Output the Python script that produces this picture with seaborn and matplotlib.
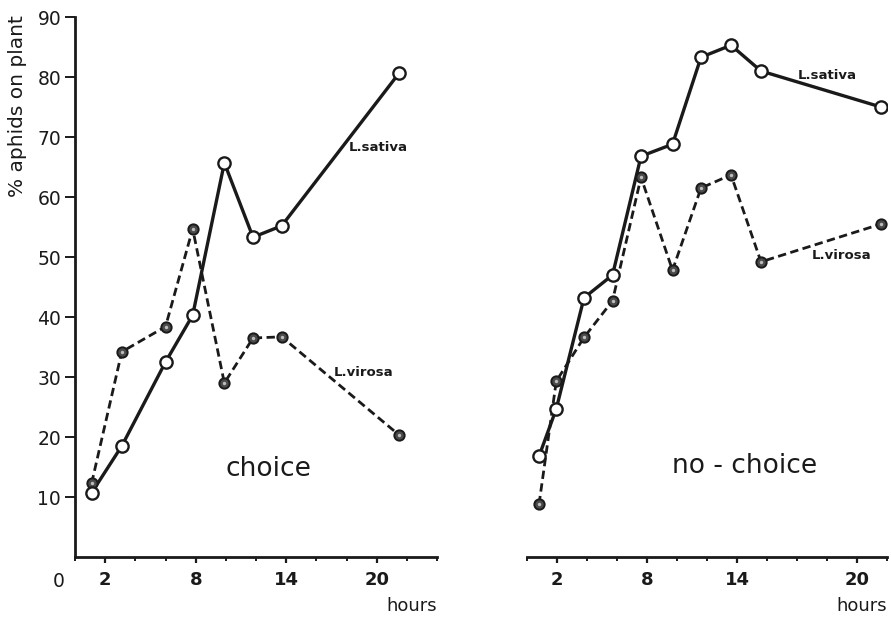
import matplotlib
matplotlib.use("Agg")
import matplotlib.pyplot as plt
import seaborn as sns
import pandas as pd
from matplotlib.ticker import MultipleLocator

# Percentage of aphids settled on each lettuce species over time
choice_hours = [1.1, 3.1, 6.0, 7.8, 9.9, 11.8, 13.7, 21.5]
choice_sativa = [10.7, 18.5, 32.5, 40.3, 65.7, 53.3, 55.2, 80.7]
choice_virosa = [12.3, 34.2, 38.4, 54.7, 29.0, 36.5, 36.7, 20.3]

nochoice_hours = [0.8, 1.95, 3.8, 5.7, 7.6, 9.7, 11.6, 13.6, 15.6, 23.6]
nochoice_sativa = [16.8, 24.7, 43.2, 47.0, 66.8, 68.8, 83.3, 85.3, 81.0, 75.0]
nochoice_virosa = [8.8, 29.3, 36.6, 42.7, 63.3, 47.8, 61.5, 63.7, 49.2, 55.5]

y_ticks = [10, 20, 30, 40, 50, 60, 70, 80, 90]
choice_xticks = [2, 8, 14, 20]
choice_xlabels = ["2", "8", "14", "20"]
nochoice_xticks = [2, 8, 14, 22]
nochoice_xlabels = ["2", "8", "14", "20"]

sns.set_style("ticks")
plt.rcParams["font.family"] = ["DejaVu Sans"]
INK = "#1a1a1a"

fig = plt.figure(figsize=(8.91, 6.17), dpi=100)
ax_l = fig.add_axes([0.0842, 0.0972, 0.4063, 0.8752])
ax_r = fig.add_axes([0.5915, 0.0972, 0.4040, 0.8752])


def draw_series(ax, hours, sativa, virosa):
    df = pd.DataFrame({"hours": hours, "sativa": sativa, "virosa": virosa})
    sns.lineplot(data=df, x="hours", y="virosa", ax=ax, color=INK, lw=2.0,
                 dashes=False, linestyle=(0, (3.0, 1.6)), zorder=2)
    sns.lineplot(data=df, x="hours", y="sativa", ax=ax, color=INK, lw=2.4, zorder=3)
    sns.scatterplot(data=df, x="hours", y="virosa", ax=ax, s=55, marker="o",
                    facecolor="#4a4a4a", edgecolor=INK, linewidth=1.4, zorder=4)
    sns.scatterplot(data=df, x="hours", y="virosa", ax=ax, s=6, marker="o",
                    color="#bdbdbd", linewidth=0, zorder=5)
    sns.scatterplot(data=df, x="hours", y="sativa", ax=ax, s=78, marker="o",
                    facecolor="white", edgecolor=INK, linewidth=1.7, zorder=6)


draw_series(ax_l, choice_hours, choice_sativa, choice_virosa)
draw_series(ax_r, nochoice_hours, nochoice_sativa, nochoice_virosa)

for ax in (ax_l, ax_r):
    ax.set_xlim(0, 24)
    ax.set_ylim(0, 90)
    ax.set_xlabel("")
    ax.set_ylabel("")
    ax.spines["top"].set_visible(False)
    ax.spines["right"].set_visible(False)
    ax.spines["bottom"].set_linewidth(2.0)
    ax.spines["bottom"].set_color(INK)
    ax.xaxis.set_minor_locator(MultipleLocator(2))
    ax.tick_params(axis="x", which="major", length=4, width=1.6, color=INK,
                   labelsize=13, pad=6, labelcolor=INK)
    ax.tick_params(axis="x", which="minor", length=3, width=1.4, color=INK)
    ax.set_facecolor("white")

ax_l.set_xticks(choice_xticks, choice_xlabels)
ax_r.set_xticks(nochoice_xticks, nochoice_xlabels)
for lbl in ax_l.get_xticklabels() + ax_r.get_xticklabels():
    lbl.set_fontweight("bold")

ax_l.spines["left"].set_linewidth(2.0)
ax_l.spines["left"].set_color(INK)
ax_l.set_yticks(y_ticks)
ax_l.tick_params(axis="y", length=7, width=1.4, color=INK, labelsize=13.5,
                 pad=3, labelcolor=INK)

ax_r.spines["left"].set_visible(False)
ax_r.set_yticks([])

# axis annotations
fig.text(0.020, 0.975, "% aphids on plant", rotation=90, ha="center", va="top",
         fontsize=14.5, color=INK)
ax_l.text(-0.045, -0.045, "0", transform=ax_l.transAxes, ha="center", va="center",
          fontsize=13.5, color=INK)
ax_l.text(1.0, -0.09, "hours", transform=ax_l.transAxes, ha="right", va="center",
          fontsize=13, color=INK)
ax_r.text(1.0, -0.09, "hours", transform=ax_r.transAxes, ha="right", va="center",
          fontsize=13, color=INK)

# panel titles and species labels
ax_l.text(12.8, 14.7, "choice", ha="center", va="center", fontsize=19, color=INK)
ax_r.text(14.5, 15.2, "no - choice", ha="center", va="center", fontsize=19, color=INK)
ax_l.text(20.1, 68.2, "L.sativa", ha="center", va="center", fontsize=9.5,
          color=INK, fontweight="bold")
ax_l.text(19.1, 30.8, "L.virosa", ha="center", va="center", fontsize=9.5,
          color=INK, fontweight="bold")
ax_r.text(20.0, 80.3, "L.sativa", ha="center", va="center", fontsize=9.5,
          color=INK, fontweight="bold")
ax_r.text(21.0, 50.3, "L.virosa", ha="center", va="center", fontsize=9.5,
          color=INK, fontweight="bold")

fig.savefig("out.png", dpi=100, facecolor="white")
